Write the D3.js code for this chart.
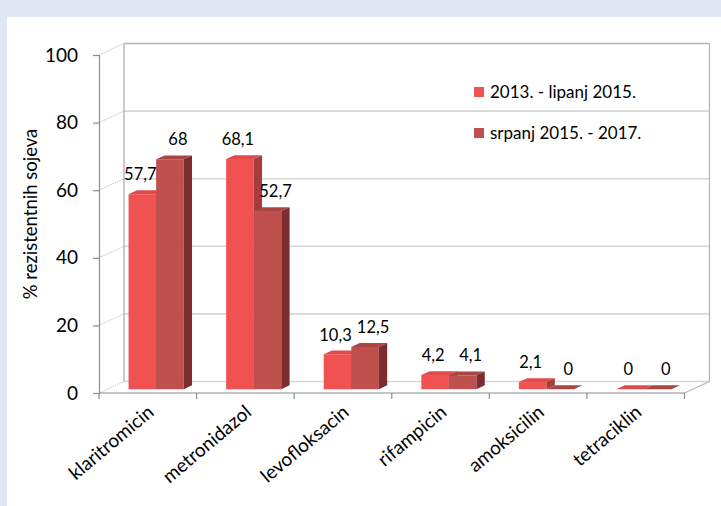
<!DOCTYPE html>
<html>
<head>
<meta charset="utf-8">
<script src="https://cdn.jsdelivr.net/npm/d3@7"></script>
<style>
  html, body { margin: 0; padding: 0; background: #dfe7f3; }
  svg { display: block; }
  text { font-family: Lato, "Open Sans", sans-serif; fill: #000; }
</style>
</head>
<body>
<svg id="chart" width="721" height="506"></svg>
<script>
// Resistance of strains by antibiotic, two periods
const categories = ["klaritromicin", "metronidazol", "levofloksacin", "rifampicin", "amoksicilin", "tetraciklin"];
const seriesNames = ["2013. - lipanj 2015.", "srpanj 2015. - 2017."];
const period1 = [57.7, 68.1, 10.3, 4.2, 2.1, 0];
const period2 = [68, 52.7, 12.5, 4.1, 0, 0];
const yTicks = [0, 20, 40, 60, 80, 100];
const axisTitle = "% rezistentnih sojeva";

const seriesValues = [period1, period2];
const faceColors = [
  { front: "#f05252", top: "#e04a4a", side: "#a83c3c" },
  { front: "#c0504d", top: "#a94542", side: "#7b2e2d" }
];

const svg = d3.select("#chart");
const W = 721, H = 506;

// white chart panel
svg.append("rect").attr("x", 7).attr("y", 17).attr("width", W - 7).attr("height", H - 17).attr("fill", "#fff");

// 3D frame: front plane plus a depth offset toward the back wall
const DX = 25, DY = -11.5;
const y = d3.scaleLinear().domain([0, 100]).range([393, 55]);
const x = d3.scaleBand().domain(categories).range([99, 684.5]).paddingInner(0).paddingOuter(0);
const xs = d3.scaleBand().domain([0, 1]).range([0, x.bandwidth()]).paddingInner(0).paddingOuter(0.77);
const P = (px, v, d) => [px + d * DX, y(v) + d * DY];

const x0 = x.range()[0], x1 = x.range()[1];
const frame = svg.append("g");

// side wall
frame.append("polygon")
  .attr("points", [P(x0, 0, 0), P(x0, 100, 0), P(x0, 100, 1), P(x0, 0, 1)].map(p => p.join(",")).join(" "))
  .attr("fill", "#fff");

// back wall gridlines
yTicks.forEach(t => {
  const a = P(x0, t, 1), b = P(x1, t, 1);
  frame.append("line").attr("x1", a[0]).attr("y1", a[1]).attr("x2", b[0]).attr("y2", b[1])
    .attr("stroke", t === 100 ? "#b4b4b4" : "#d6d6d6").attr("stroke-width", 1.6);
  // gridline across the side wall
  const c = P(x0, t, 0);
  frame.append("line").attr("x1", c[0]).attr("y1", c[1]).attr("x2", a[0]).attr("y2", a[1])
    .attr("stroke", "#c2c2c2").attr("stroke-width", 1).attr("stroke-dasharray", "1.5,1");
});

// back wall edges
{
  const tl = P(x0, 100, 1), bl = P(x0, 0, 1), tr = P(x1, 100, 1), br = P(x1, 0, 1);
  frame.append("line").attr("x1", tl[0]).attr("y1", tl[1]).attr("x2", bl[0]).attr("y2", bl[1])
    .attr("stroke", "#a6a6a6").attr("stroke-width", 1.2);
  frame.append("line").attr("x1", tr[0]).attr("y1", tr[1]).attr("x2", br[0]).attr("y2", br[1])
    .attr("stroke", "#b4b4b4").attr("stroke-width", 1.2);
  // floor right edge
  const fr = P(x1, 0, 0);
  frame.append("line").attr("x1", fr[0]).attr("y1", fr[1]).attr("x2", br[0]).attr("y2", br[1])
    .attr("stroke", "#b4b4b4").attr("stroke-width", 1.2);
}

// front value axis
const yAxis = svg.append("g").attr("transform", `translate(${x0},0)`)
  .call(d3.axisLeft(y).tickValues(yTicks).tickSize(6).tickPadding(15).tickFormat(d3.format("d")));
yAxis.select(".domain").attr("stroke", "#8c8c8c").attr("stroke-width", 1.2);
yAxis.selectAll(".tick line").attr("stroke", "#8c8c8c").attr("stroke-width", 1.2);
yAxis.selectAll(".tick text").style("font-family", "Lato, sans-serif").style("font-size", "19px").attr("fill", "#000");

// front category axis on the floor edge
const boundaries = categories.map(c => x(c)).concat([x1]);
const xAxisG = svg.append("g");
xAxisG.append("line").attr("x1", x0).attr("x2", x1).attr("y1", y(0)).attr("y2", y(0))
  .attr("stroke", "#8c8c8c").attr("stroke-width", 1.2);
xAxisG.selectAll(".cat-tick").data(boundaries).join("line")
  .attr("x1", d => d).attr("x2", d => d).attr("y1", y(0)).attr("y2", y(0) + 6)
  .attr("stroke", "#8c8c8c").attr("stroke-width", 1.2);
xAxisG.selectAll(".cat-label").data(categories).join("text")
  .attr("transform", c => `translate(${x(c) + x.bandwidth() / 2 + 3},${y(0) + 16}) rotate(-40)`)
  .attr("text-anchor", "end")
  .attr("dy", "0.35em")
  .style("font-size", "19px")
  .text(c => c);

// 3D bars: front, top and right side faces
const D0 = 1 / 3, D1 = 2 / 3;
const bars = svg.append("g");
const poly = pts => pts.map(p => p.join(",")).join(" ");
categories.forEach((c, i) => {
  seriesValues.forEach((vals, j) => {
    const v = vals[i];
    const left = x(c) + xs(j), right = left + xs.bandwidth();
    const col = faceColors[j];
    const g = bars.append("g");
    g.append("polygon").attr("fill", col.front)
      .attr("points", poly([P(left, 0, D0), P(right, 0, D0), P(right, v, D0), P(left, v, D0)]));
    g.append("polygon").attr("fill", col.top)
      .attr("points", poly([P(left, v, D0), P(right, v, D0), P(right, v, D1), P(left, v, D1)]));
    g.append("polygon").attr("fill", col.side)
      .attr("points", poly([P(right, 0, D0), P(right, 0, D1), P(right, v, D1), P(right, v, D0)]));
  });
});

// value labels above each bar
const fmt = v => String(v).replace(".", ",");
const labels = svg.append("g");
categories.forEach((c, i) => {
  seriesValues.forEach((vals, j) => {
    const v = vals[i];
    const left = x(c) + xs(j);
    const fx = P(left + xs.bandwidth() / 2, v, D0)[0] + (j === 0 ? -2 : 8);
    const ty = P(left, v, D1)[1] - 10;
    labels.append("text").attr("x", fx).attr("y", ty).attr("text-anchor", "middle")
      .style("font-size", "16.5px").text(fmt(v));
  });
});

// axis title
svg.append("text")
  .attr("transform", "translate(37,214) rotate(-90)")
  .attr("text-anchor", "middle")
  .style("font-size", "18.5px")
  .text(axisTitle);

// legend
const legend = svg.append("g").attr("transform", "translate(474,87)");
seriesNames.forEach((name, j) => {
  const row = legend.append("g").attr("transform", `translate(0,${j * 41})`);
  row.append("rect").attr("width", 10).attr("height", 10).attr("fill", faceColors[j].front);
  row.append("text").attr("x", 16).attr("y", 11).style("font-size", "17px").text(name);
});
</script>
</body>
</html>
